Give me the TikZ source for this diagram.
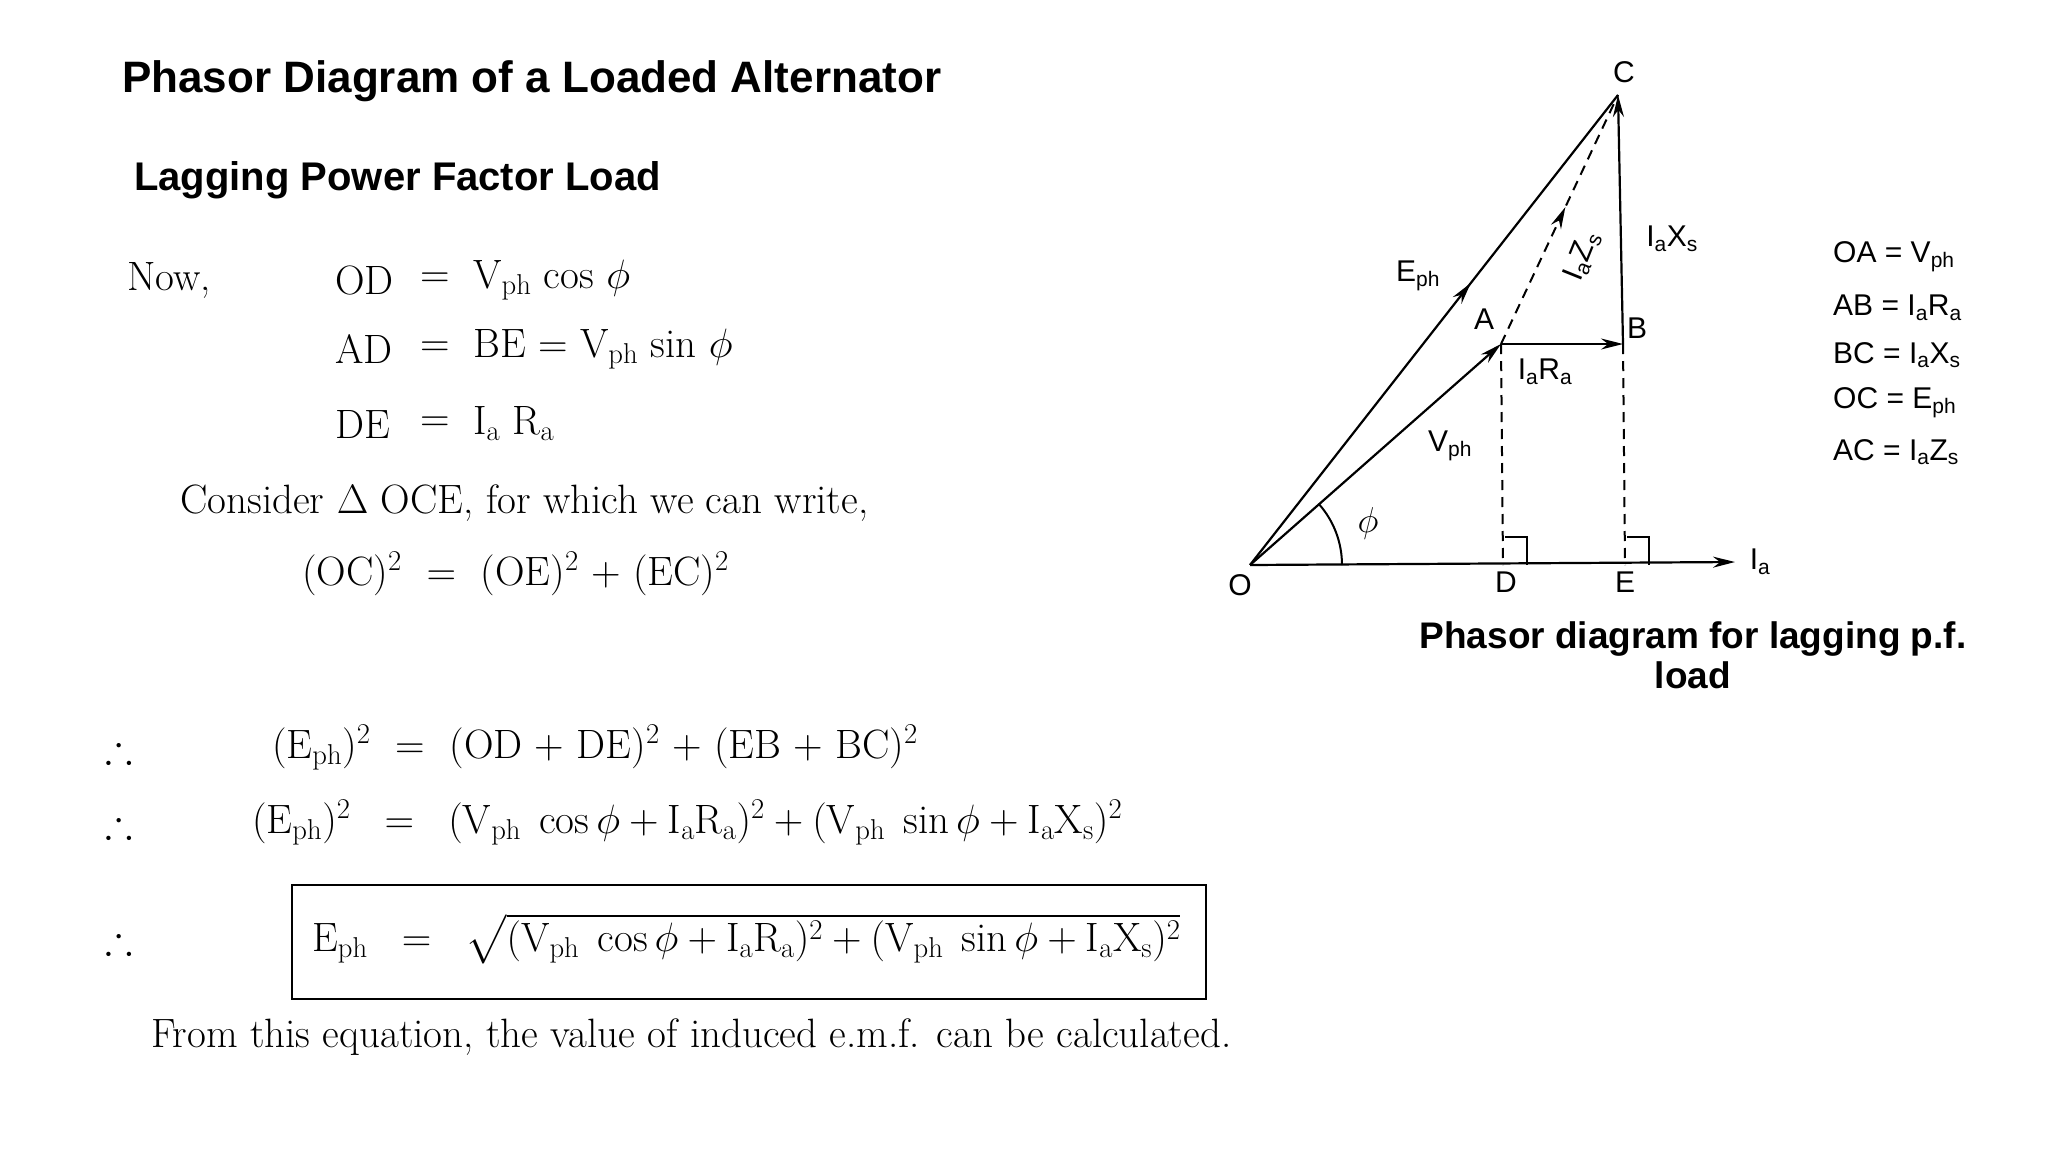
\documentclass[tikz,border=0pt]{standalone}
\usepackage{fix-cm}
\usepackage{amssymb}
\usepackage{fontspec}
\setsansfont{Liberation Sans}
\usetikzlibrary{arrows.meta,decorations.markings}
\newcommand{\sbx}[1]{\textsubscript{#1}}
\begin{document}
\begin{tikzpicture}[x=1pt,y=-1pt,
  ser/.style={anchor=west,inner sep=0pt,font=\fontsize{41}{48}\selectfont},
  lab/.style={inner sep=1pt,font=\sffamily\fontsize{30}{36}\selectfont},
  ttl/.style={anchor=west,inner sep=0pt,font=\sffamily\bfseries\fontsize{44}{52}\selectfont},
  vec/.style={line width=2.2pt,-{Stealth[length=22pt,width=11pt]}},
  midarrow/.style={line width=2.2pt,postaction={decorate},decoration={markings,mark=at position #1 with {\arrow{Stealth[length=22pt,width=11pt]}}}},
  dsh/.style={line width=2pt,dash pattern=on 10pt off 7pt}]
\useasboundingbox (0,0) rectangle (2048,1152);
% titles
\node[ttl] (t1) at (122,81) {Phasor Diagram of a Loaded Alternator};
\node[ttl,font=\sffamily\bfseries\fontsize{40}{48}\selectfont] (t2) at (134,180) {Lagging Power Factor Load};
% equations
\node[ser] (now) at (127,280) {Now,};
\node[ser] (l1) at (335,280) {OD};
\node[ser] (e1) at (420,280) {$=$};
\node[ser] (r1) at (473,280) {V$_{\mathrm{ph}}$ cos $\phi$};
\node[ser] (l2) at (335,349) {AD};
\node[ser] (e2) at (420,349) {$=$};
\node[ser] (r2) at (473,349) {BE $=$ V$_{\mathrm{ph}}$ sin $\phi$};
\node[ser] (l3) at (335,424) {DE};
\node[ser] (e3) at (420,424) {$=$};
\node[ser] (r3) at (473,424) {I$_{\mathrm{a}}$ R$_{\mathrm{a}}$};
\node[ser] (cons) at (180,503) {Consider $\Delta$ OCE, for which we can write,};
\node[ser] (oc) at (302,574) {(OC)$^2$ \ $=$ \ (OE)$^2$ + (EC)$^2$};
\node[ser] (th1) at (105,748) {$\therefore$};
\node[ser] (q1) at (272,748) {(E$_{\mathrm{ph}}$)$^2$ \ $=$ \ (OD + DE)$^2$ + (EB + BC)$^2$};
\node[ser] (th2) at (105,823) {$\therefore$};
\node[ser] (q2) at (252,823) {$(\mathrm{E}_{\mathrm{ph}})^2\;\;=\;\;(\mathrm{V}_{\mathrm{ph}}\;\cos\phi+\mathrm{I}_{\mathrm a}\mathrm{R}_{\mathrm a})^2+(\mathrm{V}_{\mathrm{ph}}\;\sin\phi+\mathrm{I}_{\mathrm a}\mathrm{X}_{\mathrm s})^2$};
\node[ser] (th3) at (105,939) {$\therefore$};
\node[draw,line width=2pt,minimum width=914pt,minimum height=114pt,anchor=north west] (box) at (291,884) {};
\node[ser] (q3) at (312,939) {$\mathrm{E}_{\mathrm{ph}}\;\;=\;\;\sqrt{(\mathrm{V}_{\mathrm{ph}}\;\cos\phi+\mathrm{I}_{\mathrm a}\mathrm{R}_{\mathrm a})^2+(\mathrm{V}_{\mathrm{ph}}\;\sin\phi+\mathrm{I}_{\mathrm a}\mathrm{X}_{\mathrm s})^2}$};
\node[ser] (fin) at (151,1037) {From this equation, the value of induced e.m.f. can be calculated.};
% diagram points
\coordinate (O) at (1250,565);
\coordinate (D) at (1503,565);
\coordinate (E) at (1625,565);
\coordinate (Ia) at (1735,562);
\coordinate (A) at (1501,344);
\coordinate (B) at (1623,344);
\coordinate (C) at (1618,95);
\draw[vec] (O) -- (Ia);
\draw[dsh] (A) -- (D);
\draw[dsh] (B) -- (E);
\draw[line width=2pt] ([xshift=2pt,yshift=28pt]D) -| ([xshift=24pt]D);
\draw[line width=2pt] ([xshift=2pt,yshift=28pt]E) -| ([xshift=24pt]E);
\draw[vec] (O) -- (A);
\draw[vec] (A) -- (B);
\draw[vec] (B) -- (C);
\draw[midarrow=0.6] (O) -- (C);
\draw[dsh,postaction={decorate},decoration={markings,mark=at position 0.55 with {\arrow{Stealth[length=22pt,width=11pt]}}}] (A) -- (C);
\draw[line width=2pt] (1342,565) arc[start angle=0,end angle=41,radius=92pt];
% labels
\node[lab] (lO) at (1240,585) {O};
\node[lab] (lD) at (1506,582) {D};
\node[lab] (lE) at (1625,582) {E};
\node[lab] (lIa) at (1760,562) {I\sbx{a}};
\node[lab] (lA) at (1484,319) {A};
\node[lab] (lB) at (1637,328) {B};
\node[lab] (lC) at (1624,72) {C};
\node[lab] (lEph) at (1418,276) {E\sbx{ph}};
\node[lab] (lIX) at (1672,239) {I\sbx{a}X\sbx{s}};
\node[lab] (lIR) at (1545,372) {I\sbx{a}R\sbx{a}};
\node[lab] (lV) at (1450,446) {V\sbx{ph}};
\node[lab,font=\fontsize{36}{40}\selectfont] (lphi) at (1368,523) {$\phi$};
\node[lab,rotate=68,inner sep=0pt] (lIZ) at (1582,256) {I\sbx{a}Z\sbx{s}};
\node[lab,anchor=west] (k1) at (1832,257) {OA = V\sbx{ph}};
\node[lab,anchor=west] (k2) at (1832,308) {AB = I\sbx{a}R\sbx{a}};
\node[lab,anchor=west] (k3) at (1832,355) {BC = I\sbx{a}X\sbx{s}};
\node[lab,anchor=west] (k4) at (1832,403) {OC = E\sbx{ph}};
\node[lab,anchor=west] (k5) at (1832,452) {AC = I\sbx{a}Z\sbx{s}};
\node[lab,font=\sffamily\bfseries\fontsize{37}{40}\selectfont,align=center] (cap) at (1693,655) {Phasor diagram for lagging p.f.\\load};
\end{tikzpicture}
\end{document}
